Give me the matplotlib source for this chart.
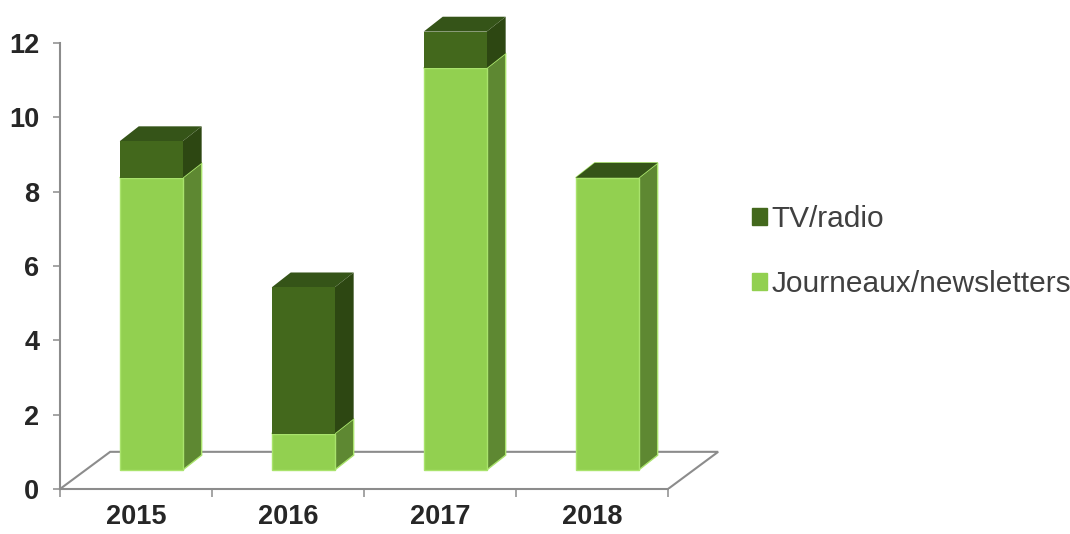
import matplotlib.pyplot as plt
from matplotlib.patches import Patch

# data
years = ['2015', '2016', '2017', '2018']
journeaux = [8, 1, 11, 8]
tv_radio = [1, 4, 1, 0]

plt.rcParams['font.family'] = ['Liberation Sans', 'DejaVu Sans']

light = dict(front='#92D050', side='#5E8832', top='#7DB443', edge='#A9E36C')
dark = dict(front='#43681C', side='#2D4712', top='#355418', edge='none')
grid_col = '#8C8C8C'

# fake 3D geometry (data units)
bar_w = 0.414
bar_shift = 0.10        # bars sit in the middle of the floor depth
depth_x, depth_y = 0.125, 0.40
floor_dx, floor_dy = 0.33, 1.0
base, k = 0.51, 0.983   # perspective squeeze of the bars

fig = plt.figure(figsize=(10.7, 5.34), dpi=100)
ax = fig.add_axes([60/1070, 45/534, 4.4*152/1070, 12.8*37.17/534])
ax.set_xlim(0, 4.4)
ax.set_ylim(0, 12.8)

n = len(years)
# floor
ax.plot([0, floor_dx, n + floor_dx, n], [0, floor_dy, floor_dy, 0],
        color=grid_col, lw=1.5, zorder=1, solid_joinstyle='miter')


def draw_box(x0, y0, h, c):
    x1 = x0 + bar_w
    y1 = y0 + h
    lw = 1.0 if c['edge'] != 'none' else 0
    ec = c['edge'] if lw else c['front']
    ax.fill([x1, x1 + depth_x, x1 + depth_x, x1],
            [y0, y0 + depth_y, y1 + depth_y, y1],
            color=c['side'], ec=ec, lw=lw, zorder=3)
    ax.fill([x0, x1, x1 + depth_x, x0 + depth_x],
            [y1, y1, y1 + depth_y, y1 + depth_y],
            color=c['top'], ec=ec, lw=lw, zorder=3)
    ax.fill([x0, x1, x1, x0], [y0, y0, y1, y1],
            color=c['front'], ec=ec, lw=lw, zorder=3)


for i in range(n):
    x0 = i + 0.5 + bar_shift - bar_w / 2
    y0 = base
    draw_box(x0, y0, journeaux[i] * k, light)
    draw_box(x0, y0 + journeaux[i] * k, tv_radio[i] * k, dark)

for s in ['top', 'right']:
    ax.spines[s].set_visible(False)
for s in ['left', 'bottom']:
    ax.spines[s].set_color(grid_col)
    ax.spines[s].set_linewidth(1.5)
ax.spines['left'].set_bounds(0, 12)
ax.spines['bottom'].set_bounds(0, n)

ax.set_yticks(range(0, 13, 2))
ax.tick_params(axis='y', direction='out', length=5, width=1.1, color=grid_col,
               pad=10, labelsize=19.5, labelcolor='#262626')
ax.set_xticks(range(n + 1))
ax.set_xticklabels([])
ax.tick_params(axis='x', which='major', direction='out', length=6, width=1.1,
               color=grid_col)
ax.set_xticks([i + 0.5 for i in range(n)], minor=True)
ax.set_xticklabels(years, minor=True)
ax.tick_params(axis='x', which='minor', length=0, pad=11, labelsize=19.5,
               labelcolor='#262626')
for lbl in ax.get_yticklabels() + ax.get_xticklabels(minor=True):
    lbl.set_fontweight('bold')

handles = [Patch(color=dark['front'], label='TV/radio'),
           Patch(color=light['front'], label='Journeaux/newsletters')]
fig.legend(handles=handles, loc='center left', bbox_to_anchor=(752/1070, 1 - 251.5/534),
           frameon=False, fontsize=21.5, handlelength=0.5, handleheight=0.5,
           handletextpad=0.15, labelspacing=1.22, borderpad=0, borderaxespad=0,
           labelcolor='#404040')

fig.savefig('out.png', dpi=100)
